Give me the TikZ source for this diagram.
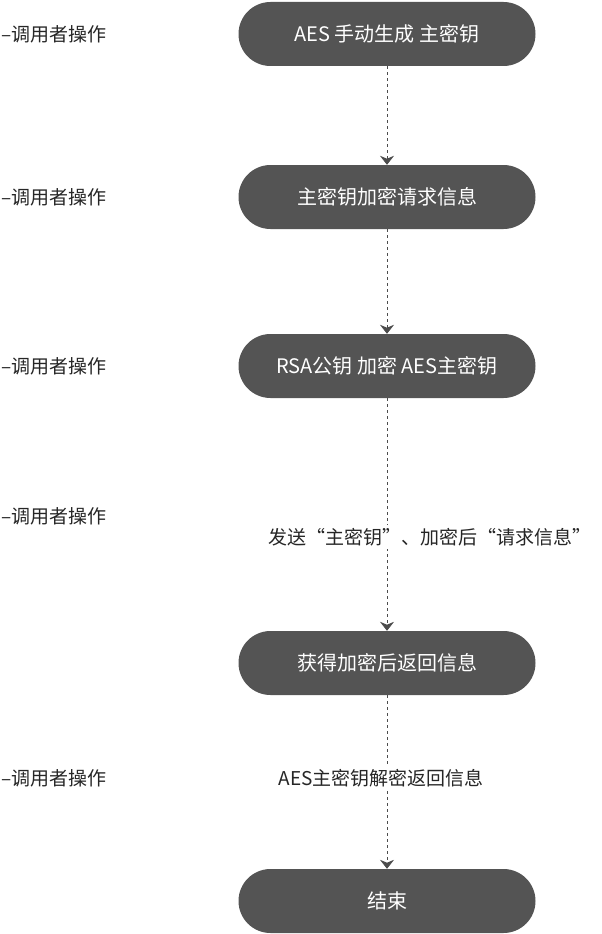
\documentclass[tikz,border=0pt]{standalone}
\usepackage{fontspec}
\setmainfont{Noto Sans CJK SC}
\usetikzlibrary{arrows.meta,positioning}
\tikzset{
  stepbox/.style={draw=none,fill=black!67,text=white,rounded corners=32pt,
    minimum width=297pt,minimum height=64pt,font=\fontsize{20}{24}\selectfont},
  lbl/.style={font=\fontsize{19}{23}\selectfont,text=black!85,inner sep=1pt},
  msg/.style={fill=white,font=\fontsize{19}{23}\selectfont,text=black!85,inner sep=3pt},
  flow/.style={draw=black!70,thick,dashed,-{Stealth[width=14pt,length=9pt]}}
}
\begin{document}
\begin{tikzpicture}[x=1pt,y=-1pt]
\useasboundingbox (0,0) rectangle (602,934);

\node [stepbox] (gen)  at (387,34)  {AES 手动生成 主密钥};
\node [stepbox] (enc)  at (387,197) {主密钥加密请求信息};
\node [stepbox] (rsa)  at (387,366) {RSA公钥 加密 AES主密钥};
\node [stepbox] (get)  at (387,663) {获得加密后返回信息};
\node [stepbox] (stop) at (387,901) {结束};
%
\draw [flow] (gen) -- (enc);
\draw [flow] (enc) -- (rsa);
\draw [flow] (rsa) -- (get);
\draw [flow] (get) -- (stop);
%
\node [msg] (send) at (430,537) {发送“主密钥”、加密后“请求信息”};
\node [msg] (dec)  at (381,778) {AES主密钥解密返回信息};
%
\foreach \y/\n in {34/a,197/b,366/c,516/d,778/e}
  \node [lbl,anchor=west] (op\n) at (0,\y) {–调用者操作};

\end{tikzpicture}
\end{document}
